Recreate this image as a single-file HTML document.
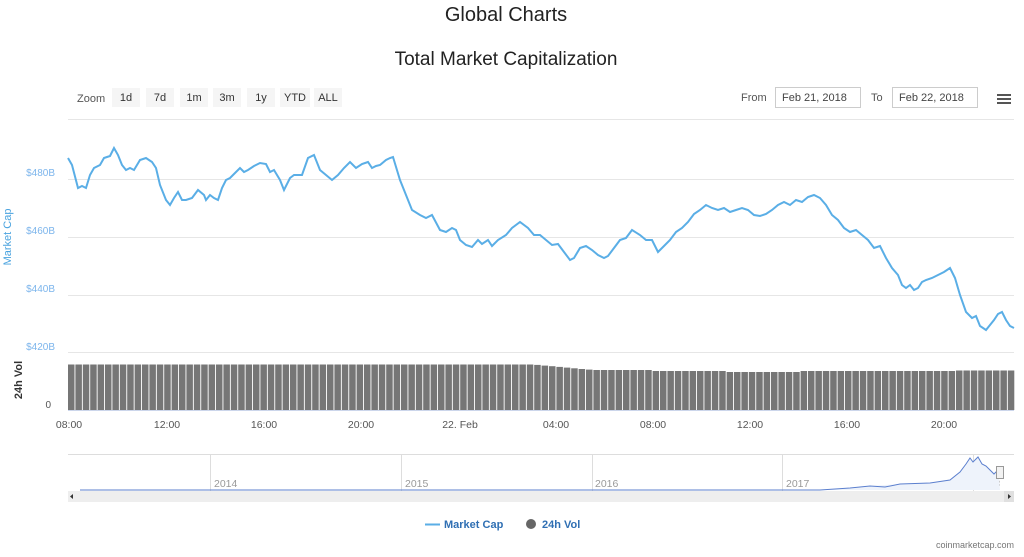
<!DOCTYPE html>
<html><head><meta charset="utf-8"><style>
body{margin:0;background:#fff;width:1024px;height:552px;overflow:hidden;font-family:"Liberation Sans",sans-serif}
</style></head><body>
<svg id="s" width="1024" height="552" xmlns="http://www.w3.org/2000/svg" font-family="Liberation Sans, sans-serif">
<text x="506" y="21" font-size="20" text-anchor="middle" fill="#222">Global Charts</text>
<text x="506" y="65" font-size="19" text-anchor="middle" fill="#222">Total Market Capitalization</text>
<text x="77" y="102" font-size="11" fill="#555">Zoom</text>
<g font-size="11" fill="#333" text-anchor="middle">
<rect x="112" y="88" width="28" height="19" fill="#f5f5f5"/><text x="126" y="101">1d</text>
<rect x="146" y="88" width="28" height="19" fill="#f5f5f5"/><text x="160" y="101">7d</text>
<rect x="180" y="88" width="28" height="19" fill="#f5f5f5"/><text x="194" y="101">1m</text>
<rect x="213" y="88" width="28" height="19" fill="#f5f5f5"/><text x="227" y="101">3m</text>
<rect x="247" y="88" width="28" height="19" fill="#f5f5f5"/><text x="261" y="101">1y</text>
<rect x="280" y="88" width="30" height="19" fill="#f5f5f5"/><text x="295" y="101">YTD</text>
<rect x="314" y="88" width="28" height="19" fill="#f5f5f5"/><text x="328" y="101">ALL</text>
</g>
<text x="741" y="101" font-size="11" fill="#555">From</text>
<rect x="775.5" y="87.5" width="85" height="20" fill="#fff" stroke="#ccc"/>
<text x="782" y="101" font-size="11" fill="#444">Feb 21, 2018</text>
<text x="871" y="101" font-size="11" fill="#555">To</text>
<rect x="892.5" y="87.5" width="85" height="20" fill="#fff" stroke="#ccc"/>
<text x="899" y="101" font-size="11" fill="#444">Feb 22, 2018</text>
<rect x="997" y="94" width="14" height="2" fill="#555"/><rect x="997" y="98" width="14" height="2" fill="#555"/><rect x="997" y="102" width="14" height="2" fill="#555"/>
<g stroke="#e6e6e6"><line x1="68" x2="1014" y1="119.5" y2="119.5"/><line x1="68" x2="1014" y1="179.5" y2="179.5"/><line x1="68" x2="1014" y1="237.5" y2="237.5"/><line x1="68" x2="1014" y1="295.5" y2="295.5"/><line x1="68" x2="1014" y1="352.5" y2="352.5"/></g>
<g font-size="10" fill="#7cb5ec" text-anchor="end"><text x="55" y="176">$480B</text><text x="55" y="234">$460B</text><text x="55" y="292">$440B</text><text x="55" y="350">$420B</text></g>
<text transform="translate(11,237) rotate(-90)" font-size="11" fill="#4aa3df" text-anchor="middle">Market Cap</text>
<text transform="translate(22,380) rotate(-90)" font-size="11" font-weight="bold" fill="#333" text-anchor="middle">24h Vol</text>
<text x="51" y="408" font-size="10" fill="#555" text-anchor="end">0</text>
<g id="bars" fill="#767676"></g>
<line x1="68" x2="1014" y1="410.5" y2="410.5" stroke="#ccd6eb"/>
<polyline id="ln" fill="none" stroke="#5aaee6" stroke-width="2"/>
<g font-size="10.5" fill="#555" text-anchor="middle">
<text x="69" y="428">08:00</text><text x="167" y="428">12:00</text><text x="264" y="428">16:00</text><text x="361" y="428">20:00</text><text x="460" y="428">22. Feb</text><text x="556" y="428">04:00</text><text x="653" y="428">08:00</text><text x="750" y="428">12:00</text><text x="847" y="428">16:00</text><text x="944" y="428">20:00</text></g>
<line x1="68" x2="1014" y1="454.5" y2="454.5" stroke="#ddd"/>
<g stroke="#ddd"><line x1="210.5" x2="210.5" y1="455" y2="491"/><line x1="401.5" x2="401.5" y1="455" y2="491"/><line x1="592.5" x2="592.5" y1="455" y2="491"/><line x1="782.5" x2="782.5" y1="455" y2="491"/><line x1="973.5" x2="973.5" y1="455" y2="491"/></g>
<g font-size="10.5" fill="#999"><text x="214" y="487">2014</text><text x="405" y="487">2015</text><text x="595" y="487">2016</text><text x="786" y="487">2017</text><text x="977" y="487">2018</text></g>
<path d="M80,490 L820,490 L850,488 L870,486 L900,484 L930,483 L950,480 L960,472 L966,464 L970,458 L973,462 L978,457 L982,464 L986,466 L990,470 L994,474 L998,470 L1000,490 Z" fill="#eef3fb" stroke="none"/>
<polyline points="80,490 820,490 850,488 870,486 885,487 900,484 930,483 950,480 960,472 966,464 970,458 973,462 978,457 982,464 986,466 990,470 994,474 998,470" fill="none" stroke="#5b7fce" stroke-width="1"/>
<rect x="996.5" y="466.5" width="7" height="12" fill="#f2f2f2" stroke="#999"/>
<rect x="68" y="491" width="946" height="11" fill="#eee"/>
<rect x="1004" y="491" width="10" height="11" fill="#e0e0e0"/>
<path d="M1008,494 l3,2.5 l-3,2.5z" fill="#333"/><path d="M73,494 l-3,2.5 l3,2.5z" fill="#333"/>
<line x1="425" x2="440" y1="524.5" y2="524.5" stroke="#5aaee6" stroke-width="2"/>
<text x="444" y="528" font-size="11" font-weight="bold" fill="#2f6fb3">Market Cap</text>
<circle cx="531" cy="524" r="5" fill="#666"/>
<text x="542" y="528" font-size="11" font-weight="bold" fill="#2f6fb3">24h Vol</text>
<text x="1014" y="548" font-size="9" fill="#777" text-anchor="end">coinmarketcap.com</text>
</svg>
<script>
var p="68,158 72,165 78,188 82,186 86,188 90,175 94,168 100,165 104,158 110,156 114,148 118,155 122,165 126,170 130,168 134,170 140,160 146,158 152,162 156,168 160,185 166,200 170,205 174,198 178,192 182,200 186,200 192,198 198,190 204,195 206,200 210,195 214,198 218,200 222,188 226,180 230,178 236,172 240,168 244,172 248,170 254,166 260,163 266,164 270,172 274,170 280,180 284,190 290,178 294,175 302,175 308,158 314,155 320,170 326,175 332,180 338,175 344,168 350,162 356,168 362,164 368,162 372,168 376,166 380,165 386,160 390,158 393,157 400,180 406,195 412,210 420,215 426,218 432,215 440,230 446,232 452,228 456,230 460,240 466,245 472,247 478,240 482,244 488,240 492,246 498,240 506,235 512,228 520,222 528,228 534,235 540,235 546,240 552,245 558,244 564,252 570,260 574,258 580,248 586,246 592,250 598,255 604,258 608,256 614,248 620,240 626,238 632,230 640,235 646,240 652,240 658,252 664,246 670,240 676,232 682,228 688,222 694,214 700,210 706,205 712,208 718,210 724,208 730,212 736,210 742,208 748,210 754,215 760,216 766,214 772,210 778,205 784,202 790,205 796,200 802,202 808,197 814,195 820,198 826,205 832,215 838,220 844,228 850,232 856,230 862,235 868,240 874,248 880,246 886,258 892,268 898,275 902,285 906,288 910,285 914,290 918,288 922,282 926,280 932,278 938,275 944,272 950,268 955,278 960,295 966,312 972,318 976,316 980,326 986,330 990,325 994,320 998,314 1002,312 1006,320 1010,326 1014,328";
document.getElementById('ln').setAttribute('points',p);
function barTop(x){if(x<530)return 364.5;if(x<590)return 364.5+(x-530)/60*5.5;if(x<650)return 370;if(x<720)return 371;if(x<800)return 372;if(x<950)return 371;return 370.5;}
var g=document.getElementById('bars'),h='';
for(var x=68;x<1013;x+=7.4){var t=barTop(x);h+='<rect x="'+x.toFixed(1)+'" y="'+t.toFixed(1)+'" width="6.5" height="'+(410-t).toFixed(1)+'"/>';}
g.innerHTML=h;
</script>
</body></html>
